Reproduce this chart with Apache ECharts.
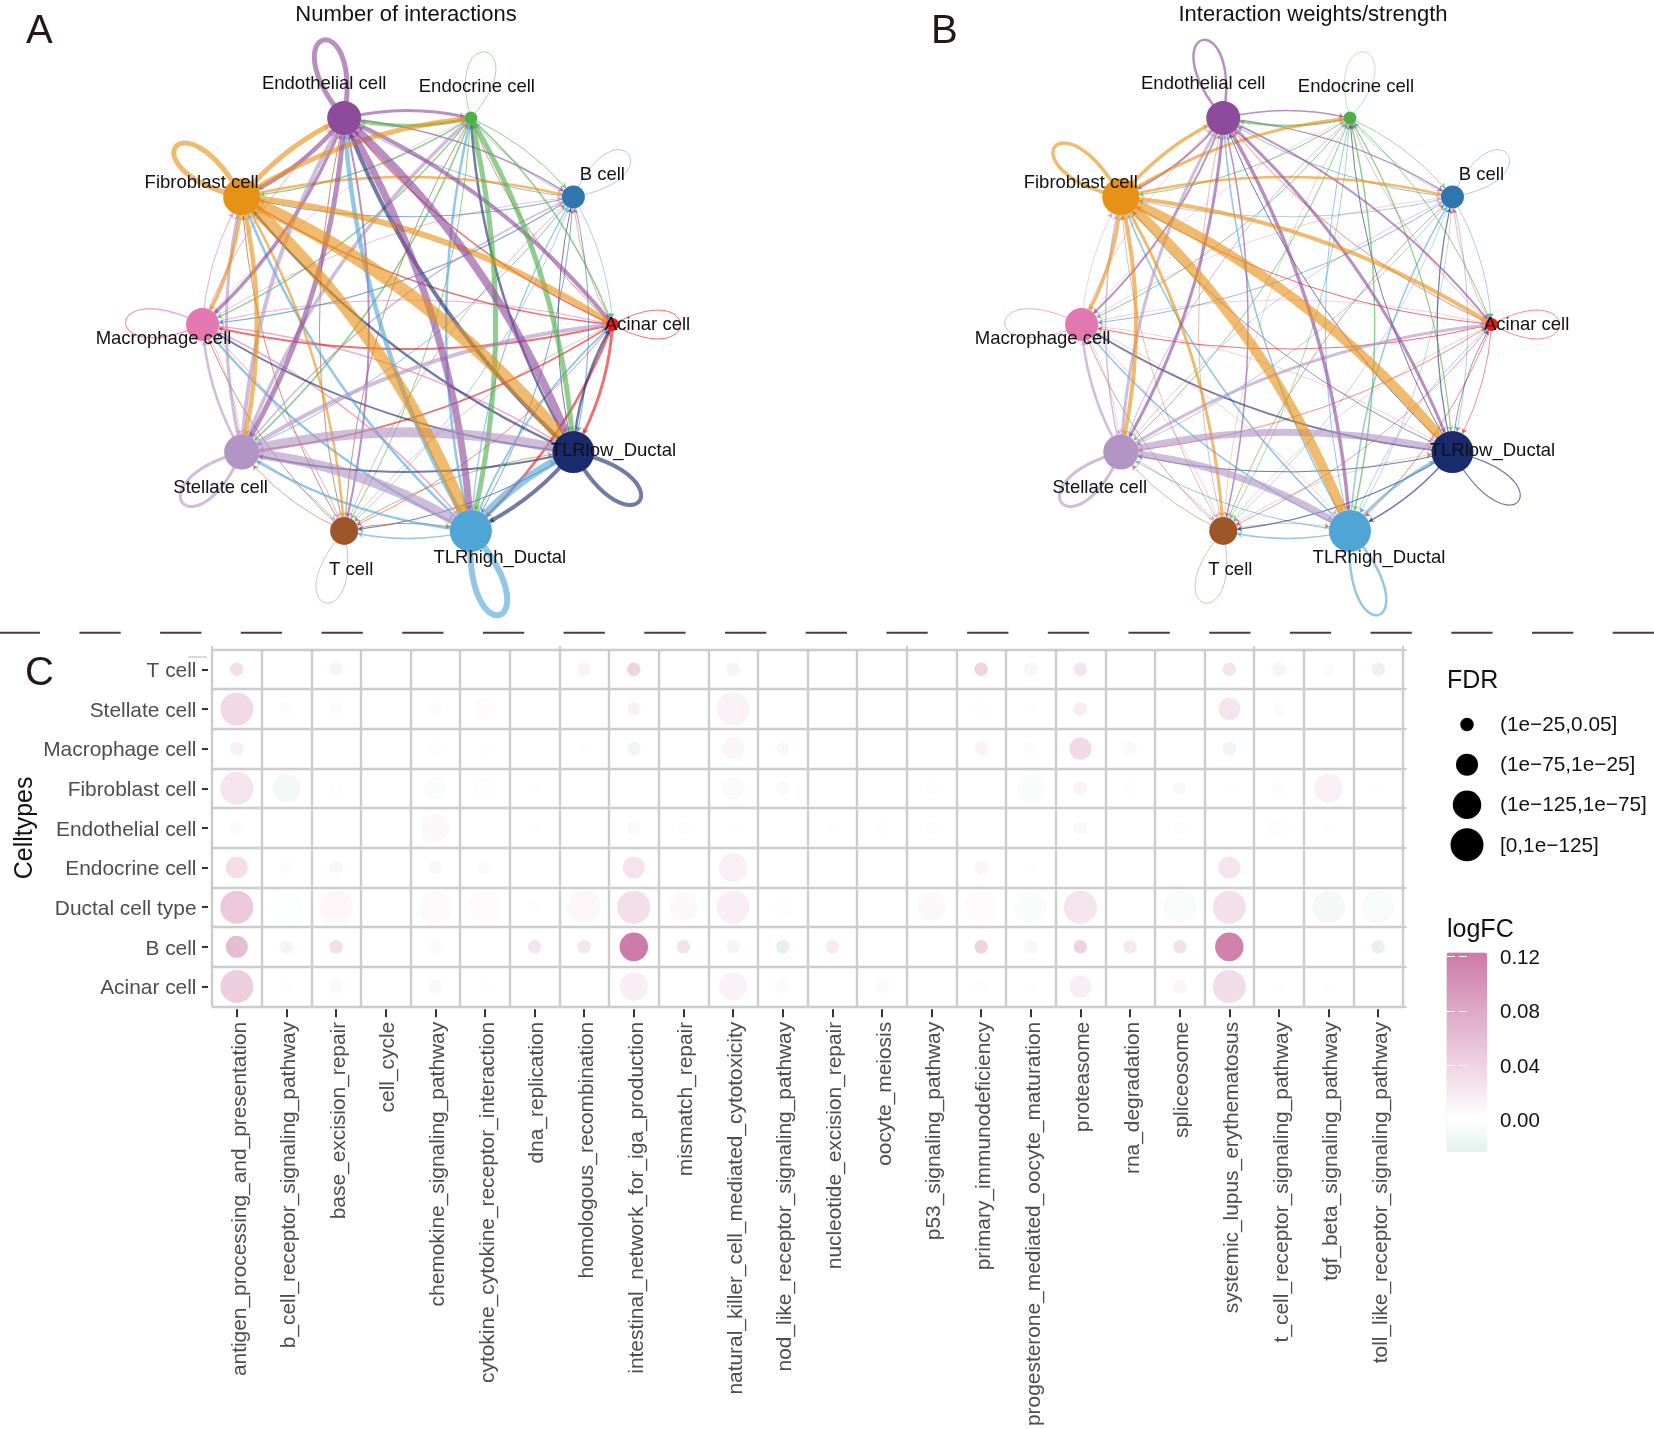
<!DOCTYPE html>
<html><head><meta charset="utf-8"><style>html,body{margin:0;padding:0;background:#fff}#c{width:1654px;height:1429px}</style>
<script src="https://cdn.jsdelivr.net/npm/echarts@6/dist/echarts.min.js"></script></head>
<body><div id="c"></div><script>
// ---------- network panels ----------
const cellNames = ['Acinar cell','TLRlow_Ductal','TLRhigh_Ductal','T cell','Stellate cell','Macrophage cell','Fibroblast cell','Endothelial cell','Endocrine cell','B cell'];
const cellColors = ['#E41A1C','#1A2A6C','#4FA5D6','#9E5528','#B295C5','#E377B0','#E79216','#8E4B9C','#4DAF4A','#2F76AF'];
const nodeSizes = [13,42,42,28,35,33,37,34,13,23];
// edge strength, row = sender, column = receiver; diagonal = self loop
const countEdges = [
 [1.0,3.0,2.5,0.8,1.5,2.0,1.5,1.5,0.8,0.6],
 [2.5,4.0,4.0,1.0,2.0,2.0,2.5,4.0,2.5,1.0],
 [2.0,8.0,6.0,1.5,2.5,2.5,2.5,4.5,2.5,1.2],
 [0.5,0.8,1.0,0.6,0.8,1.0,1.0,1.0,1.0,0.6],
 [4.0,10,10,1.0,3.0,2.5,3.0,4.0,3.5,1.5],
 [1.0,1.5,1.5,1.0,0.8,1.5,1.0,1.0,0.6,0.8],
 [6.0,13,12,2.5,4.5,3.5,5.0,5.0,5.0,2.5],
 [4.0,8.0,7.0,2.0,5.0,3.5,4.0,5.0,3.0,1.5],
 [1.5,5.0,5.0,1.0,1.5,1.5,1.5,3.5,0.8,1.0],
 [0.6,1.0,1.0,0.6,0.8,1.2,1.0,0.8,0.6,0.6]];
const weightEdges = [
 [0.8,0.8,0.8,0.7,0.8,1.0,1.0,0.8,0.5,0.5],
 [0.8,1.2,1.5,1.2,1.0,2.0,0.8,1.0,1.0,1.2],
 [0.8,2.5,2.5,1.5,1.0,1.5,1.5,1.5,1.0,1.5],
 [0.4,0.4,0.5,0.6,0.7,0.8,0.6,0.6,0.4,0.8],
 [3.0,7.0,7.0,0.8,3.0,2.5,1.5,3.0,1.0,0.8],
 [0.6,0.6,0.6,0.6,0.6,1.0,0.6,0.6,0.5,0.6],
 [4.0,10,10,3.0,4.0,3.5,3.5,3.5,3.0,2.5],
 [2.0,3.0,3.5,1.5,3.0,1.8,2.0,2.5,1.5,1.2],
 [1.0,1.2,1.5,0.8,1.0,1.0,1.0,2.0,0.6,0.8],
 [0.6,0.6,0.5,0.5,0.6,0.8,0.6,0.8,0.5,0.6]];
// ---------- dot panel ----------
const celltypes = ['Acinar cell','B cell','Ductal cell type','Endocrine cell','Endothelial cell','Fibroblast cell','Macrophage cell','Stellate cell','T cell'];
const pathways = ['antigen_processing_and_presentation','b_cell_receptor_signaling_pathway','base_excision_repair','cell_cycle','chemokine_signaling_pathway','cytokine_cytokine_receptor_interaction','dna_replication','homologous_recombination','intestinal_network_for_iga_production','mismatch_repair','natural_killer_cell_mediated_cytotoxicity','nod_like_receptor_signaling_pathway','nucleotide_excision_repair','oocyte_meiosis','p53_signaling_pathway','primary_immunodeficiency','progesterone_mediated_oocyte_maturation','proteasome','rna_degradation','spliceosome','systemic_lupus_erythematosus','t_cell_receptor_signaling_pathway','tgf_beta_signaling_pathway','toll_like_receptor_signaling_pathway'];
// entries: [pathway number, logFC, FDR class 1..4]
const dotsTcell = [[1,.03,1],[3,.012,1],[8,.012,1],[9,.04,1],[11,.012,1],[16,.04,1],[17,-.012,1],[18,.025,1],[21,.025,1],[22,.012,1],[23,-.004,1],[24,-.02,1]];
const dotsStellate = [[1,.035,4],[2,-.004,1],[3,.005,1],[5,.004,1],[6,.004,2],[9,.015,1],[11,.012,4],[16,.003,1],[17,-.002,1],[18,.018,1],[21,.025,2],[22,-.004,1],[24,.0005,1]];
const dotsMacrophage = [[1,.014,1],[5,.003,1],[6,.001,1],[8,-.002,1],[9,-.014,1],[11,.01,2],[12,.009,1],[16,.012,1],[17,-.004,1],[18,.035,2],[19,.007,1],[21,-.016,1]];
const dotsFibroblast = [[1,.025,4],[2,-.01,3],[3,.002,1],[5,-.005,2],[6,.002,2],[7,-.002,1],[11,.006,2],[12,-.008,1],[14,-.0005,1],[15,.003,1],[16,.0005,1],[17,-.005,3],[18,.012,1],[19,.003,1],[20,-.008,1],[21,-.002,1],[22,-.004,1],[23,.014,3],[24,.001,1]];
const dotsEndothelial = [[1,-.006,1],[5,.007,3],[7,-.002,1],[8,.0003,1],[9,-.006,1],[10,.002,1],[11,.001,1],[13,.001,1],[14,.003,1],[15,.003,1],[16,.0005,1],[18,-.008,1],[20,.003,1],[22,.002,2],[23,.001,1]];
const dotsEndocrine = [[1,.03,2],[2,-.004,1],[3,.008,1],[5,.008,1],[6,.005,1],[9,.025,2],[11,.015,3],[16,.011,1],[17,.001,1],[21,.025,2]];
const dotsDuctal = [[1,.05,4],[2,-.003,4],[3,.008,4],[5,.006,4],[6,.004,4],[7,.002,1],[8,.008,4],[9,.03,4],[10,.007,3],[11,.016,4],[12,-.002,2],[15,.007,3],[16,.004,4],[17,-.005,4],[18,.025,4],[20,-.007,4],[21,.028,4],[22,.0005,2],[23,-.01,4],[24,-.007,4]];
const dotsB = [[1,.06,2],[2,.012,1],[3,.03,1],[5,.006,1],[7,.025,1],[8,.024,1],[9,.12,3],[10,.026,1],[11,.012,1],[12,-.024,1],[13,.02,1],[16,.04,1],[17,-.01,1],[18,.04,1],[19,.02,1],[20,.028,1],[21,.115,3],[24,-.022,1]];
const dotsAcinar = [[1,.045,4],[2,-.002,1],[3,.007,1],[5,.007,1],[6,.001,1],[9,.016,3],[11,.012,3],[12,.006,1],[14,.006,1],[16,.003,1],[17,-.002,1],[18,.016,2],[20,.011,1],[21,.032,4],[22,.001,1],[23,-.002,1]];
const fdrLabels = ['(1e\u221225,0.05]','(1e\u221275,1e\u221225]','(1e\u2212125,1e\u221275]','[0,1e\u2212125]'];
const logFCTicks = [0,0.04,0.08,0.12];

// ---------- styling ----------
const FONT = '"Liberation Sans", Arial, sans-serif';
const fdrDiameter = [13.5,22,28.5,33];
const labelOffset = [[35,0],[40,-1],[29,27],[7,39],[-21,36],[-39,14],[-40,-14],[-20,-34.5],[6,-31.5],[29,-22.5]];
const loopTip = [[68,0],[66,49],[29,84],[-19,72],[-59,51],[-77,-2],[-66,-50],[-21,-78],[15,-66],[55,-43]];
const ringStep = 2*Math.PI/cellNames.length;
const ring = cellNames.map((n,i)=>[Math.cos(i*ringStep),Math.sin(i*ringStep)]);

function graphSeries(matrix, axis){
  const links=[];
  matrix.forEach((row,s)=>row.forEach((w,t)=>{
    if(s!==t) links.push({source:cellNames[s],target:cellNames[t],value:w,
      lineStyle:{width:w,color:cellColors[s],opacity:.62,curveness:.12}});
  }));
  links.sort((a,b)=>a.value-b.value);
  return {type:'graph',coordinateSystem:'cartesian2d',xAxisIndex:axis,yAxisIndex:axis,layout:'none',silent:true,z:3,
    edgeSymbol:['none','arrow'],edgeSymbolSize:[0,5],
    data:cellNames.map((n,i)=>({name:n,value:ring[i],symbolSize:nodeSizes[i],itemStyle:{color:cellColors[i],opacity:1},
      label:{show:true,position:'inside',offset:labelOffset[i],formatter:n,color:'#111',fontSize:18.5,fontFamily:FONT}})),
    links};
}
function loopSeries(matrix, axis){
  return {type:'custom',coordinateSystem:'cartesian2d',xAxisIndex:axis,yAxisIndex:axis,silent:true,z:2,clip:false,
    data:cellNames.map((n,i)=>[ring[i][0],ring[i][1],matrix[i][i]]),encode:{x:0,y:1},
    renderItem(params,api){
      const i=params.dataIndex,p=api.coord([api.value(0),api.value(1)]),t=loopTip[i];
      const len=Math.hypot(t[0],t[1]),px=-t[1]/len*50,py=t[0]/len*50,k=4/3;
      return {type:'bezierCurve',shape:{x1:p[0],y1:p[1],x2:p[0],y2:p[1],
        cpx1:p[0]+t[0]*k+px,cpy1:p[1]+t[1]*k+py,cpx2:p[0]+t[0]*k-px,cpy2:p[1]+t[1]*k-py},
        style:{stroke:cellColors[i],fill:null,lineWidth:api.value(2),opacity:.62}};
    }};
}
const hiddenAxis=(grid,inverse)=>({type:'value',gridIndex:grid,min:-1,max:1,show:false,inverse:!!inverse});
const stubAxis=(data,pos)=>({type:'category',gridIndex:2,data,position:pos,offset:0,
  axisLine:{show:false},axisLabel:{show:false},splitLine:{show:false},
  axisTick:{show:true,alignWithLabel:false,length:3.5,lineStyle:{color:'#CCCCCC',width:2}}});
const dotRows={'T cell':dotsTcell,'Stellate cell':dotsStellate,'Macrophage cell':dotsMacrophage,'Fibroblast cell':dotsFibroblast,'Endothelial cell':dotsEndothelial,'Endocrine cell':dotsEndocrine,'Ductal cell type':dotsDuctal,'B cell':dotsB,'Acinar cell':dotsAcinar};
const dotData=[];
Object.keys(dotRows).forEach(r=>dotRows[r].forEach(d=>dotData.push([pathways[d[0]-1],r,d[1],d[2]])));

const txt=(text,x,y,size,extra)=>({type:'text',x,y,silent:true,style:Object.assign({text,fontSize:size,fontFamily:FONT,fill:'#231815',textAlign:'left',textVerticalAlign:'middle'},extra||{})});

const option={
  animation:false,backgroundColor:'#fff',
  grid:[
    {left:202.5,width:410,top:107.5,height:434},
    {left:1081.6,width:410,top:107.5,height:434},
    {left:212,right:251,top:649.5,height:358},
    {left:1440,width:54,top:704.5,height:160.4},
    {left:1446.5,width:40.5,top:952.5,height:199.5}
  ],
  xAxis:[hiddenAxis(0),hiddenAxis(1),
    {type:'category',gridIndex:2,data:pathways,offset:3,
      axisLine:{show:false},axisTick:{show:true,alignWithLabel:true,length:8,lineStyle:{color:'#333',width:2}},
      splitLine:{show:true,lineStyle:{color:'#CCCCCC',width:2.4}},
      axisLabel:{rotate:90,interval:0,margin:12.5,color:'#4D4D4D',fontSize:20.9,fontFamily:FONT,verticalAlign:'top',lineHeight:6}},
    {type:'value',gridIndex:3,min:-1,max:1,show:false},
    {type:'value',gridIndex:4,min:-1,max:1,show:false},
    stubAxis(pathways,'top')],
  yAxis:[hiddenAxis(0,true),hiddenAxis(1,true),
    {type:'category',gridIndex:2,data:celltypes,offset:4,name:'Celltypes',nameLocation:'middle',nameRotate:90,nameGap:170,nameMoveOverlap:false,
      nameTextStyle:{color:'#111',fontSize:25,fontFamily:FONT},
      axisLine:{show:false},axisTick:{show:true,alignWithLabel:true,length:6,lineStyle:{color:'#333',width:2}},
      splitLine:{show:true,lineStyle:{color:'#CCCCCC',width:2.4}},
      axisLabel:{interval:0,margin:11.5,color:'#4D4D4D',fontSize:20.9,fontFamily:FONT,verticalAlign:'top',lineHeight:4}},
    {type:'category',gridIndex:3,data:fdrLabels,inverse:true,position:'right',
      axisLine:{show:false},axisTick:{show:false},
      axisLabel:{margin:6,color:'#111',fontSize:20.8,fontFamily:FONT,verticalAlign:'top',lineHeight:2}},
    {type:'value',gridIndex:4,min:-0.0244,max:0.1231,position:'right',z:20,
      axisLine:{show:false},splitLine:{show:false},
      axisTick:{show:true,inside:true,length:8,lineStyle:{color:'#fff',width:1},customValues:logFCTicks},
      axisLabel:{margin:13,color:'#111',fontSize:20.5,fontFamily:FONT,customValues:logFCTicks,formatter:v=>v.toFixed(2),verticalAlign:'top',lineHeight:4}},
    {type:'value',gridIndex:4,min:-0.0244,max:0.1231,position:'left',z:20,
      axisLine:{show:false},splitLine:{show:false},axisLabel:{show:false},
      axisTick:{show:true,inside:true,length:8,lineStyle:{color:'#fff',width:1},customValues:logFCTicks}},
    stubAxis(celltypes,'right')],
  visualMap:[{type:'continuous',seriesIndex:4,dimension:2,min:-0.0244,max:0.1231,left:1446.5,top:952.5,padding:0,
    itemWidth:40.5,itemHeight:199.5,calculable:false,realtime:false,text:null,hoverLink:false,
    inRange:{color:['#E4F1ED','#FFFFFF','#F5E4ED','#EBC9DC','#E0AFCA','#D694B9','#CC79A7']},
    textStyle:{color:'transparent',fontSize:1}}],
  series:[
    loopSeries(countEdges,0),graphSeries(countEdges,0),
    loopSeries(weightEdges,1),graphSeries(weightEdges,1),
    {type:'scatter',xAxisIndex:2,yAxisIndex:2,data:dotData,encode:{x:0,y:1},silent:true,z:3,itemStyle:{opacity:1},
      symbolSize:v=>fdrDiameter[v[3]-1]},
    {type:'scatter',xAxisIndex:3,yAxisIndex:3,silent:true,itemStyle:{color:'#000',opacity:1},
      data:fdrLabels.map((l,i)=>[0,l,i]),symbolSize:v=>fdrDiameter[v[2]]}
  ],
  graphic:[
    txt('A',26,32,40),txt('B',931,32,40),txt('C',25,674,40),
    txt('Number of interactions',406,15,22,{textAlign:'center',fill:'#111'}),
    txt('Interaction weights/strength',1313,15,22,{textAlign:'center',fill:'#111'}),
    txt('FDR',1447,681,25,{fill:'#111'}),txt('logFC',1447,929.7,25,{fill:'#111'}),
    {type:'line',silent:true,shape:{x1:-1.3,y1:632.7,x2:1654,y2:632.7},style:{stroke:'#4A3F3F',lineWidth:2,lineDash:[41.3,39.4]}},
    {type:'line',silent:true,shape:{x1:188,y1:657,x2:207,y2:657},style:{stroke:'#ccc',lineWidth:1.5}}
  ]
};
const chart=echarts.init(document.getElementById('c'),null,{renderer:'canvas',width:1654,height:1429});
chart.setOption(option);
</script></body></html>
